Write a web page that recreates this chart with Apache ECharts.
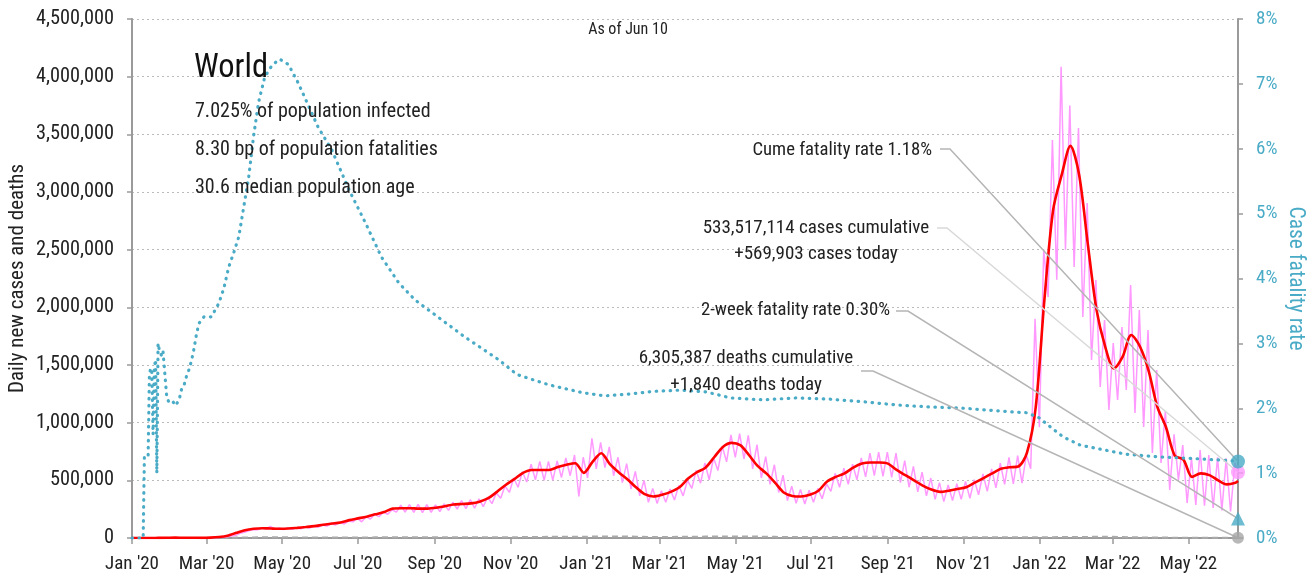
<!DOCTYPE html>
<html>
<head>
<meta charset="utf-8">
<title>World cases</title>
<script src="https://cdn.jsdelivr.net/npm/echarts@6/dist/echarts.min.js"></script>
<style>
  html, body { margin: 0; padding: 0; background: #fff; }
  #chart { width: 1314px; height: 580px; }
</style>
</head>
<body>
<div id="chart"></div>
<script>
// ---- data ----
// x is days since 1 Jan 2020, last day is 10 Jun 2022
const lastDay = 891;
const tickMonths = [[2020,0],[2020,2],[2020,4],[2020,6],[2020,8],[2020,10],[2021,0],[2021,2],[2021,4],[2021,6],[2021,8],[2021,10],[2022,0],[2022,2],[2022,4]];
const tickLabels = ["Jan '20","Mar '20","May '20","Jul '20","Sep '20","Nov '20","Jan '21","Mar '21","May '21","Jul '21","Sep '21","Nov '21","Jan '22","Mar '22","May '22"];

// 7-day average of new cases, thousands, one value per week from day 0
const casesAvgK = [
  0,0,0,1,2,3,2.5,2,1.5,3,
  8,20,45,68,80,85,82,80,82,88,
  95,103,115,125,135,155,170,185,205,225,
  255,258,258,255,255,262,275,290,295,300,
  315,345,400,460,510,565,590,590,590,615,
  635,648,565,660,735,640,570,510,440,380,
  360,375,400,440,515,570,610,700,790,825,
  805,720,625,560,480,395,365,360,375,410,
  490,530,560,610,645,655,655,645,590,545,
  500,455,420,400,410,425,440,480,520,560,
  600,613,620,740,1130,2060,2840,3150,3400,3150,
  2550,1980,1660,1470,1570,1760,1660,1450,1138,960,
  715,680,530,560,545,500,465,480
];
const casesAvgLastK = 495;

// daily new cases, thousands: weekly low (day 7w+3) and high (day 7w+6.5)
const dailyLowK = [
  0,0,0,1,2,3,2,2,1,2,
  7,18,40,62,72,78,76,74,76,80,
  87,94,104,113,122,140,140,165,185,205,
  225,225,222,220,222,228,240,250,255,258,
  272,298,345,395,440,485,505,500,500,525,
  540,360,520,600,610,540,480,425,365,310,
  300,310,330,365,430,475,505,585,660,700,
  685,600,520,465,395,325,300,295,310,340,
  405,440,465,505,530,540,535,525,480,440,
  400,365,335,315,325,335,345,375,405,435,
  465,470,475,600,960,2090,2240,2500,2350,1916,
  1543,1309,1110,1196,1283,1084,962,737,650,416,
  503,303,286,280,260,240,230,250
];
const dailyHighK = [
  0,0,0,1,2,3,3,2,2,4,
  10,24,50,74,86,100,88,86,89,95,
  103,112,125,137,148,172,185,205,225,245,
  285,290,292,290,288,296,310,325,332,340,
  355,390,450,520,575,640,665,665,668,695,
  720,700,865,830,790,700,645,578,500,430,
  410,425,455,500,585,650,695,795,895,905,
  890,810,705,635,545,450,420,415,430,470,
  560,605,640,695,735,745,745,735,670,620,
  570,520,480,460,470,490,505,555,600,650,
  700,715,720,1900,2500,3450,4086,3750,3555,2904,
  2237,1890,1690,1829,2193,1977,1803,1457,1100,900,
  806,694,763,720,700,690,650,700
];
const casesToday = 569903;

// daily deaths, thousands, one value every 28 days from day 0
const deathsK = [0,0.05,0.1,3.5,6.5,4.5,4.5,5.5,6,5.5,5.5,7,10,11.5,13.5,9,10.5,13,12,8.5,8.5,10,9.5,8,7,7,6.5,8.5,10.5,5.5,3,2];
const deathsToday = 1840;

// cumulative case fatality rate, percent
const cfrDays = [0,9,10,13,14,15,16,17,18,19,20,21,22,23,24,25,26,27,28,30,33,35,38,40,42,44,46,48,50,52,54,58,64,70,74,78,82,86,90,94,98,102,107,113,119,126,134,142,150,161,175,188,201,215,228,242,268,296,310,336,363,381,401,420,442,463,482,508,536,562,589,616,643,670,697,721,731,740,750,764,780,801,828,860,887,891];
const cfrPct  = [0,0,1.28,1.28,2.5,2.62,2.55,1.6,2.62,2.75,1.0,3.0,2.9,2.92,2.8,2.87,2.64,2.4,2.17,2.08,2.1,2.04,2.13,2.3,2.36,2.5,2.6,2.74,2.92,3.15,3.31,3.41,3.41,3.62,3.85,4.18,4.4,4.64,5.1,5.56,6.2,6.72,7.11,7.29,7.38,7.3,7.01,6.67,6.33,5.98,5.36,4.86,4.33,3.93,3.67,3.47,3.1,2.74,2.52,2.36,2.24,2.19,2.22,2.26,2.28,2.25,2.16,2.13,2.16,2.14,2.1,2.05,2.02,2.0,1.96,1.93,1.85,1.71,1.56,1.43,1.37,1.29,1.25,1.22,1.19,1.18];
const cumeFatalityRate = 1.18;
const twoWeekFatalityRate = 0.30;

const statLines = ["7.025% of population infected", "8.30 bp of population fatalities", "30.6 median population age"];

// ---- build ----
const FONT = '"Roboto Condensed", "Liberation Sans Narrow", Roboto, sans-serif';
const TEAL = "#4aabc6";
const PINK = "#ff99ff";
const GREY = "#9a9a9a";

const dayOf = (y, m) => (Date.UTC(y, m, 1) - Date.UTC(2020, 0, 1)) / 864e5;
const tickDays = tickMonths.map(p => dayOf(p[0], p[1]));

const avgData = casesAvgK.map((v, i) => [i * 7, v * 1000]);
avgData.push([lastDay, casesAvgLastK * 1000]);

const dailyData = [];
for (let i = 0; i < dailyLowK.length; i++) {
  if (i * 7 + 3 <= lastDay) dailyData.push([i * 7 + 3, dailyLowK[i] * 1000]);
  if (i * 7 + 6.5 <= lastDay) dailyData.push([i * 7 + 6.5, dailyHighK[i] * 1000]);
}
dailyData.push([lastDay, casesToday]);

const deathsData = deathsK.map((v, i) => [i * 28, v * 1000]);
deathsData.push([lastDay, deathsToday]);

const cfrData = cfrDays.map((d, i) => [d, cfrPct[i]]);

const chart = echarts.init(document.getElementById("chart"));

const option = {
  animation: false,
  grid: { left: 132, right: 76, top: 19, bottom: 42, outerBoundsMode: "none", containLabel: false },
  xAxis: {
    type: "value",
    min: 0,
    max: lastDay,
    axisLine: { lineStyle: { color: GREY, width: 2 } },
    axisTick: { customValues: tickDays, length: 6, lineStyle: { color: GREY, width: 1.5 } },
    axisLabel: {
      customValues: tickDays,
      formatter: v => tickLabels[tickDays.indexOf(v)] || "",
      fontFamily: FONT, fontSize: 19, color: "#222", margin: 17
    },
    splitLine: { show: false }
  },
  yAxis: [
    {
      type: "value",
      min: 0, max: 4500000, interval: 500000,
      name: "Daily new cases and deaths",
      nameLocation: "middle", nameGap: 104, nameRotate: 90, nameMoveOverlap: false,
      nameTextStyle: { fontFamily: FONT, fontSize: 21, color: "#222" },
      axisLine: { show: true, lineStyle: { color: GREY, width: 2 } },
      axisTick: { show: true, length: 5, lineStyle: { color: GREY, width: 1.5 } },
      axisLabel: {
        formatter: v => v.toLocaleString("en-US"),
        fontFamily: FONT, fontSize: 20.3, color: "#222", margin: 18
      },
      splitLine: { lineStyle: { color: "#bbb", type: [2, 3], width: 1 } }
    },
    {
      type: "value",
      min: 0, max: 8, interval: 1,
      position: "right",
      name: "Case fatality rate",
      nameLocation: "middle", nameGap: 46, nameRotate: -90, nameMoveOverlap: false,
      nameTextStyle: { fontFamily: FONT, fontSize: 21.5, color: TEAL },
      axisLine: { show: true, lineStyle: { color: GREY, width: 2 } },
      axisTick: { show: true, length: 5, lineStyle: { color: GREY, width: 1.5 } },
      axisLabel: { formatter: "{value}%", fontFamily: FONT, fontSize: 19, color: TEAL, margin: 18 },
      splitLine: { show: false }
    }
  ],
  series: [
    {
      name: "deaths", type: "line", data: deathsData, yAxisIndex: 0,
      showSymbol: false, smooth: 0.3, z: 2,
      lineStyle: { color: "#aaa", width: 2, type: [6, 4] }
    },
    {
      name: "daily cases", type: "line", data: dailyData, yAxisIndex: 0,
      showSymbol: false, z: 3,
      lineStyle: { color: PINK, width: 1.5 }
    },
    {
      name: "7-day average", type: "line", data: avgData, yAxisIndex: 0,
      showSymbol: false, smooth: 0.3, z: 4,
      lineStyle: { color: "#ff0000", width: 2.6 }
    },
    {
      name: "case fatality rate", type: "line", data: cfrData, yAxisIndex: 1,
      showSymbol: false, z: 5,
      lineStyle: { color: TEAL, width: 3.2, type: [0.5, 6.5], cap: "round" }
    },
    {
      name: "markers", type: "scatter", yAxisIndex: 0, z: 8, clip: false,
      data: [
        { value: [lastDay, casesToday], symbol: "circle", symbolSize: 14, itemStyle: { color: PINK } },
        { value: [lastDay, deathsToday], symbol: "circle", symbolSize: 12, itemStyle: { color: "#a6a6a6" } }
      ]
    },
    {
      name: "rate markers", type: "scatter", yAxisIndex: 1, z: 8, clip: false,
      data: [
        { value: [lastDay, cumeFatalityRate], symbol: "circle", symbolSize: 14, itemStyle: { color: TEAL } },
        { value: [lastDay, twoWeekFatalityRate], symbol: "triangle", symbolSize: 14, itemStyle: { color: TEAL } }
      ]
    }
  ]
};
chart.setOption(option);

// text blocks and leader lines
function txt(text, x, y, size, align, color) {
  return {
    type: "text", z: 20, silent: true,
    style: { text: text, x: x, y: y, font: size + "px " + FONT, fill: color || "#222", align: align || "left", verticalAlign: "middle" }
  };
}
function leader(x0, y0, x1, pt, color) {
  return {
    type: "polyline", z: 6, silent: true,
    shape: { points: [[x0, y0], [x1, y0], pt] },
    style: { stroke: color, lineWidth: 1.5, fill: null }
  };
}
const px = (axis, v) => chart.convertToPixel({ xAxisIndex: 0, yAxisIndex: axis }, [lastDay, v]);

const graphics = [
  txt("As of Jun 10", 628, 30, 16, "center"),
  txt("World", 194, 69, 32.5, "left", "#111"),
  txt(statLines[0], 195, 112, 20),
  txt(statLines[1], 195, 150, 20),
  txt(statLines[2], 195, 188, 20),
  txt("Cume fatality rate 1.18%", 932, 150, 18.7, "right"),
  txt("533,517,114 cases cumulative", 816, 228, 19, "center"),
  txt("+569,903 cases today", 816, 254, 19, "center"),
  txt("2-week fatality rate 0.30%", 890, 310, 18.7, "right"),
  txt("6,305,387 deaths cumulative", 746, 358, 19, "center"),
  txt("+1,840 deaths today", 746, 385, 19, "center"),
  leader(940, 149, 950, px(1, cumeFatalityRate), "#b5b5b5"),
  leader(937, 228, 947, px(0, casesToday), "#d9d9d9"),
  leader(896, 311, 908, px(1, twoWeekFatalityRate), "#b5b5b5"),
  leader(861, 371, 873, px(0, deathsToday), "#b5b5b5")
];
chart.setOption({ graphic: graphics });

window.addEventListener("resize", function () {
  chart.resize();
});
</script>
</body>
</html>
